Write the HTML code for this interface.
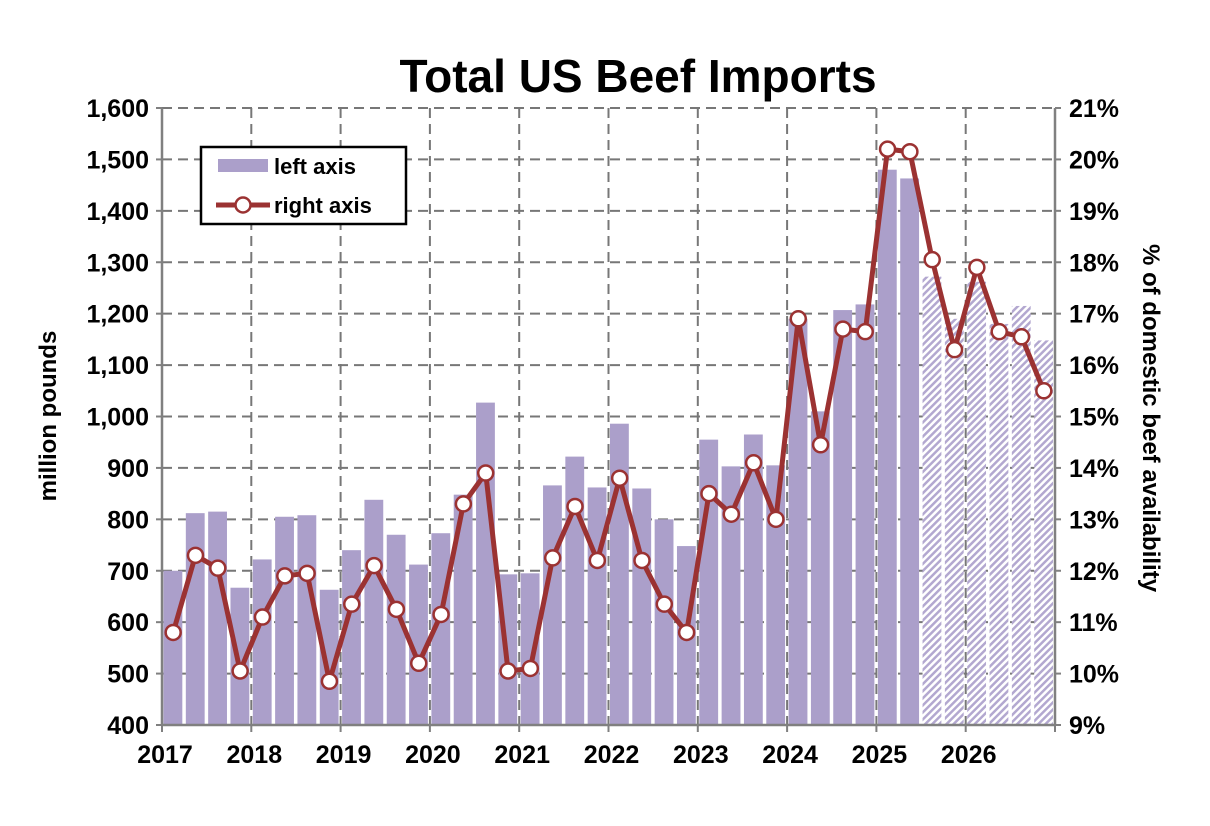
<!DOCTYPE html>
<html><head><meta charset="utf-8"><style>
html,body{margin:0;padding:0;background:#fff;}
svg{display:block;font-family:"Liberation Sans",Arial,sans-serif;font-weight:bold;}
</style></head><body>
<svg id="s" width="1210" height="826" viewBox="0 0 1210 826" xmlns="http://www.w3.org/2000/svg">
<defs>
<pattern id="h" patternUnits="userSpaceOnUse" width="5" height="5" patternTransform="rotate(-45)">
<rect width="5" height="5" fill="#fff"/><rect width="5" height="2.5" fill="#b3a8d0"/>
</pattern>
</defs>
<text x="638" y="92" text-anchor="middle" font-size="46" fill="#000">Total US Beef Imports</text>
<g id="g"></g>
</svg>
<script>
var L=162,R=1055,T=108,B=725,n=40,w=(R-L)/n;
var bars=[700,812,815,667,722,805,808,663,740,838,770,712,773,848,1027,693,695,866,922,862,986,860,800,748,955,903,965,905,1190,1010,1207,1218,1480,1463,1272,1190,1262,1180,1215,1148];
var pct=[10.8,12.3,12.05,10.05,11.1,11.9,11.95,9.85,11.35,12.1,11.25,10.2,11.15,13.3,13.9,10.05,10.1,12.25,13.25,12.2,13.8,12.2,11.35,10.8,13.5,13.1,14.1,13.0,16.9,14.45,16.7,16.65,20.2,20.15,18.05,16.3,17.9,16.65,16.55,15.5];
function yl(v){return B-(v-400)/1200*(B-T);}
function yr(p){return B-(p-9)/12*(B-T);}
var s='';
for(var i=1;i<=12;i++){var y=yl(400+i*100);s+='<line x1="'+L+'" x2="'+R+'" y1="'+y+'" y2="'+y+'" stroke="#777" stroke-width="2" stroke-dasharray="10,6"/>';}
for(var k=1;k<10;k++){var x=L+k*4*w;s+='<line x1="'+x+'" x2="'+x+'" y1="'+T+'" y2="'+B+'" stroke="#777" stroke-width="2" stroke-dasharray="10,6"/>';}
for(var i=0;i<n;i++){var x=L+i*w+1.5,y=yl(bars[i]);s+='<rect x="'+x+'" y="'+y+'" width="'+(w-3.5)+'" height="'+(B-y)+'" fill="'+(i>=34?'url(#h)':'#ab9fca')+'"/>';}
s+='<line x1="'+L+'" x2="'+L+'" y1="'+T+'" y2="'+B+'" stroke="#808080" stroke-width="2.5"/>';
s+='<line x1="'+R+'" x2="'+R+'" y1="'+T+'" y2="'+B+'" stroke="#808080" stroke-width="2.5"/>';
s+='<line x1="'+L+'" x2="'+R+'" y1="'+B+'" y2="'+B+'" stroke="#808080" stroke-width="2.5"/>';
for(var i=0;i<=12;i++){var y=yl(400+i*100);
s+='<line x1="'+(L-6)+'" x2="'+L+'" y1="'+y+'" y2="'+y+'" stroke="#808080" stroke-width="2"/>';
s+='<line x1="'+R+'" x2="'+(R+6)+'" y1="'+y+'" y2="'+y+'" stroke="#808080" stroke-width="2"/>';
var v=400+i*100;var t=v>=1000?(Math.floor(v/1000)+','+String(v%1000).padStart(3,'0')):v;
s+='<text x="'+(L-13)+'" y="'+(y+9)+'" text-anchor="end" font-size="25">'+t+'</text>';
s+='<text x="'+(R+14)+'" y="'+(y+9)+'" font-size="25">'+(9+i)+'%</text>';}
for(var k=0;k<=10;k++){var x=L+k*4*w;s+='<line x1="'+x+'" x2="'+x+'" y1="'+B+'" y2="'+(B+7)+'" stroke="#808080" stroke-width="2"/>';
if(k<10)s+='<text x="'+(x+3)+'" y="'+(B+38)+'" text-anchor="middle" font-size="25">'+(2017+k)+'</text>';}
var pts=pct.map(function(p,i){return (L+(i+0.5)*w)+','+yr(p);}).join(' ');
s+='<polyline points="'+pts+'" fill="none" stroke="#9b3232" stroke-width="5" stroke-linejoin="round"/>';
pct.forEach(function(p,i){s+='<circle cx="'+(L+(i+0.5)*w)+'" cy="'+yr(p)+'" r="7.5" fill="#fff" stroke="#9b3232" stroke-width="2.5"/>';});
s+='<text transform="translate(56,416) rotate(-90)" text-anchor="middle" font-size="24">million pounds</text>';
s+='<text transform="translate(1143,418) rotate(90)" text-anchor="middle" font-size="24">% of domestic beef availability</text>';
s+='<rect x="201" y="147" width="205" height="77" fill="#fff" stroke="#000" stroke-width="2.5"/>';
s+='<rect x="218" y="159" width="50" height="13" fill="#ab9fca"/>';
s+='<text x="274" y="174" font-size="22">left axis</text>';
s+='<line x1="216" x2="270" y1="205" y2="205" stroke="#9b3232" stroke-width="5"/>';
s+='<circle cx="243" cy="205" r="7.5" fill="#fff" stroke="#9b3232" stroke-width="2.5"/>';
s+='<text x="274" y="213" font-size="22">right axis</text>';
document.getElementById('g').innerHTML=s;
</script>
</body></html>
